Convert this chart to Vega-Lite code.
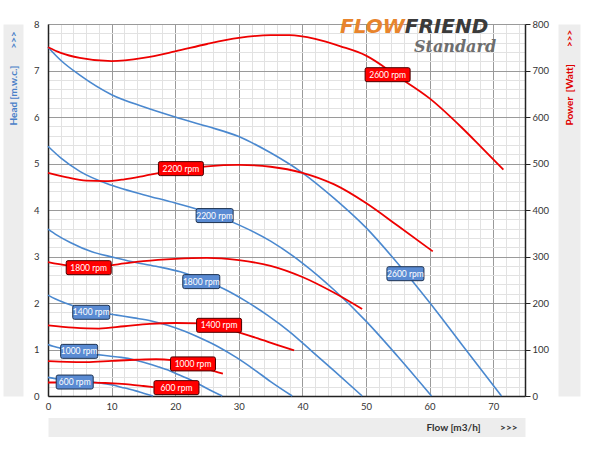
{
  "$schema": "https://vega.github.io/schema/vega-lite/v6.json",
  "width": 477,
  "height": 372,
  "autosize": {"type": "none"},
  "padding": {"left": 48, "top": 24, "right": 75, "bottom": 56},
  "background": "white",
  "config": {"view": {"stroke": null}, "font": "Lato", "axis": {"labelFont": "Lato", "titleFont": "Lato"}},
  "datasets": {
    "head": [
      {"s":"2600","f":0,"h":7.5},{"s":"2600","f":2,"h":7.22},{"s":"2600","f":5,"h":6.9},{"s":"2600","f":10,"h":6.48},{"s":"2600","f":15,"h":6.22},{"s":"2600","f":20,"h":6.0},{"s":"2600","f":25,"h":5.8},{"s":"2600","f":30,"h":5.58},{"s":"2600","f":35,"h":5.23},{"s":"2600","f":40,"h":4.8},{"s":"2600","f":45,"h":4.25},{"s":"2600","f":50,"h":3.62},{"s":"2600","f":55,"h":2.85},{"s":"2600","f":60,"h":2.01},{"s":"2600","f":65,"h":1.12},{"s":"2600","f":71.3,"h":0},
      {"s":"2200","f":0,"h":5.37},{"s":"2200","f":2,"h":5.12},{"s":"2200","f":5,"h":4.83},{"s":"2200","f":10,"h":4.53},{"s":"2200","f":15,"h":4.33},{"s":"2200","f":20,"h":4.15},{"s":"2200","f":25,"h":3.95},{"s":"2200","f":30,"h":3.68},{"s":"2200","f":35,"h":3.33},{"s":"2200","f":40,"h":2.86},{"s":"2200","f":45,"h":2.28},{"s":"2200","f":50,"h":1.61},{"s":"2200","f":55,"h":0.85},{"s":"2200","f":60.3,"h":0},
      {"s":"1800","f":0,"h":3.59},{"s":"1800","f":1.4,"h":3.46},{"s":"1800","f":3.5,"h":3.3},{"s":"1800","f":6.9,"h":3.1},{"s":"1800","f":10.4,"h":2.98},{"s":"1800","f":13.8,"h":2.87},{"s":"1800","f":17.3,"h":2.78},{"s":"1800","f":20.8,"h":2.67},{"s":"1800","f":24.2,"h":2.51},{"s":"1800","f":27.7,"h":2.3},{"s":"1800","f":31.1,"h":2.04},{"s":"1800","f":34.6,"h":1.73},{"s":"1800","f":38.1,"h":1.37},{"s":"1800","f":41.5,"h":0.96},{"s":"1800","f":45,"h":0.54},{"s":"1800","f":49.4,"h":0},
      {"s":"1400","f":0,"h":2.17},{"s":"1400","f":1.1,"h":2.09},{"s":"1400","f":2.7,"h":2.0},{"s":"1400","f":5.4,"h":1.88},{"s":"1400","f":8.1,"h":1.8},{"s":"1400","f":10.8,"h":1.74},{"s":"1400","f":13.5,"h":1.68},{"s":"1400","f":16.1,"h":1.62},{"s":"1400","f":18.8,"h":1.52},{"s":"1400","f":21.5,"h":1.39},{"s":"1400","f":24.2,"h":1.23},{"s":"1400","f":26.9,"h":1.05},{"s":"1400","f":29.6,"h":0.83},{"s":"1400","f":32.3,"h":0.58},{"s":"1400","f":35,"h":0.31},{"s":"1400","f":38.4,"h":0},
      {"s":"1000","f":0,"h":1.11},{"s":"1000","f":0.8,"h":1.07},{"s":"1000","f":1.9,"h":1.03},{"s":"1000","f":3.8,"h":0.96},{"s":"1000","f":5.8,"h":0.92},{"s":"1000","f":7.7,"h":0.89},{"s":"1000","f":9.6,"h":0.86},{"s":"1000","f":11.5,"h":0.83},{"s":"1000","f":13.5,"h":0.78},{"s":"1000","f":15.4,"h":0.71},{"s":"1000","f":17.3,"h":0.63},{"s":"1000","f":19.2,"h":0.54},{"s":"1000","f":21.2,"h":0.42},{"s":"1000","f":23.1,"h":0.3},{"s":"1000","f":25,"h":0.16},{"s":"1000","f":27.4,"h":0},
      {"s":"600","f":0,"h":0.4},{"s":"600","f":1.2,"h":0.37},{"s":"600","f":2.3,"h":0.35},{"s":"600","f":3.5,"h":0.33},{"s":"600","f":4.6,"h":0.32},{"s":"600","f":5.8,"h":0.31},{"s":"600","f":6.9,"h":0.3},{"s":"600","f":8.1,"h":0.28},{"s":"600","f":9.2,"h":0.26},{"s":"600","f":10.4,"h":0.23},{"s":"600","f":11.5,"h":0.19},{"s":"600","f":12.7,"h":0.15},{"s":"600","f":13.8,"h":0.11},{"s":"600","f":15,"h":0.06},{"s":"600","f":16.5,"h":0}
    ],
    "power": [
      {"s":"2600","f":0,"p":750},{"s":"2600","f":2,"p":738},{"s":"2600","f":5,"p":727},{"s":"2600","f":10,"p":720},{"s":"2600","f":15,"p":727},{"s":"2600","f":20,"p":741},{"s":"2600","f":25,"p":757},{"s":"2600","f":30,"p":770},{"s":"2600","f":35,"p":776},{"s":"2600","f":38,"p":776},{"s":"2600","f":42,"p":768},{"s":"2600","f":46,"p":752},{"s":"2600","f":50,"p":732},{"s":"2600","f":55,"p":687},{"s":"2600","f":60,"p":640},{"s":"2600","f":65,"p":578},{"s":"2600","f":68,"p":537},{"s":"2600","f":71.6,"p":487},
      {"s":"2200","f":0,"p":480},{"s":"2200","f":3,"p":470},{"s":"2200","f":6,"p":463},{"s":"2200","f":9,"p":462},{"s":"2200","f":12,"p":466},{"s":"2200","f":15,"p":473},{"s":"2200","f":18,"p":481},{"s":"2200","f":21,"p":488},{"s":"2200","f":25,"p":494},{"s":"2200","f":30,"p":497},{"s":"2200","f":35,"p":493},{"s":"2200","f":40,"p":480},{"s":"2200","f":45,"p":455},{"s":"2200","f":50,"p":415},{"s":"2200","f":55,"p":366},{"s":"2200","f":60.5,"p":311},
      {"s":"1800","f":0,"p":288},{"s":"1800","f":3,"p":281},{"s":"1800","f":6,"p":278},{"s":"1800","f":9,"p":280},{"s":"1800","f":12,"p":285},{"s":"1800","f":15,"p":290},{"s":"1800","f":20,"p":295},{"s":"1800","f":25,"p":297},{"s":"1800","f":30,"p":292},{"s":"1800","f":35,"p":280},{"s":"1800","f":40,"p":256},{"s":"1800","f":45,"p":222},{"s":"1800","f":49.4,"p":187},
      {"s":"1400","f":0,"p":152},{"s":"1400","f":4,"p":147},{"s":"1400","f":8,"p":145},{"s":"1400","f":12,"p":150},{"s":"1400","f":16,"p":155},{"s":"1400","f":20,"p":157},{"s":"1400","f":24,"p":156},{"s":"1400","f":27,"p":151},{"s":"1400","f":30,"p":137},{"s":"1400","f":33,"p":124},{"s":"1400","f":36,"p":110},{"s":"1400","f":38.7,"p":98},
      {"s":"1000","f":0,"p":75},{"s":"1000","f":3,"p":73.5},{"s":"1000","f":6,"p":73},{"s":"1000","f":10,"p":75.5},{"s":"1000","f":14,"p":78},{"s":"1000","f":17,"p":79},{"s":"1000","f":19.5,"p":77},{"s":"1000","f":22,"p":70},{"s":"1000","f":24,"p":62},{"s":"1000","f":26,"p":54},{"s":"1000","f":27.5,"p":48},
      {"s":"600","f":0,"p":29},{"s":"600","f":3,"p":29.5},{"s":"600","f":6,"p":29.5},{"s":"600","f":9,"p":28},{"s":"600","f":11,"p":26.5},{"s":"600","f":13,"p":24.5},{"s":"600","f":15,"p":21.5},{"s":"600","f":16.6,"p":19}
    ],
    "headLabels": [
      {"label":"2600 rpm","f":56.2,"h":2.63},{"label":"2200 rpm","f":26.2,"h":3.88},{"label":"1800 rpm","f":24.1,"h":2.46},
      {"label":"1400 rpm","f":6.8,"h":1.8},{"label":"1000 rpm","f":4.9,"h":0.96},{"label":"600 rpm","f":4.2,"h":0.3}
    ],
    "powerLabels": [
      {"label":"2600 rpm","f":53.4,"p":691},{"label":"2200 rpm","f":20.9,"p":489},{"label":"1800 rpm","f":6.4,"p":276},
      {"label":"1400 rpm","f":26.9,"p":152},{"label":"1000 rpm","f":22.8,"p":69},{"label":"600 rpm","f":20.2,"p":18}
    ]
  },
  "resolve": {"scale": {"y": "independent"}, "axis": {"x": "independent", "y": "independent"}},
  "layer": [
    {
      "data": {"name": "head"},
      "mark": {"type": "line", "interpolate": "monotone", "color": "#4a88cf", "strokeWidth": 1.6},
      "encoding": {
        "x": {"field": "f", "type": "quantitative", "scale": {"domain": [0, 75], "nice": false},
          "axis": {"values": [0,10,20,30,40,50,60,70], "grid": true, "gridColor": "#9a9a9a", "gridWidth": 1, "ticks": false, "domain": true, "domainColor": "#222", "domainWidth": 1.5, "labelFontSize": 9.5, "labelColor": "#333", "labelPadding": 5, "labelFlush": false, "title": null, "zindex": 0}},
        "y": {"field": "h", "type": "quantitative", "scale": {"domain": [0, 8], "nice": false},
          "axis": {"orient": "left", "values": [0,1,2,3,4,5,6,7,8], "grid": true, "gridColor": "#9a9a9a", "gridWidth": 1, "ticks": false, "domain": true, "domainColor": "#222", "domainWidth": 1.5, "labelFontSize": 9.5, "labelColor": "#333", "labelPadding": 9, "title": null, "zindex": 0}},
        "detail": {"field": "s", "type": "nominal"}
      }
    },
    {
      "data": {"name": "power"},
      "mark": {"type": "line", "interpolate": "monotone", "color": "#ee0000", "strokeWidth": 1.8},
      "encoding": {
        "x": {"field": "f", "type": "quantitative", "scale": {"domain": [0, 75], "nice": false}, "axis": null},
        "y": {"field": "p", "type": "quantitative", "scale": {"domain": [0, 800], "nice": false},
          "axis": {"orient": "right", "values": [0,100,200,300,400,500,600,700,800], "grid": false, "ticks": true, "tickSize": 5, "tickColor": "#222", "domain": true, "domainColor": "#222", "domainWidth": 1.5, "labelFontSize": 9.5, "labelColor": "#333", "labelPadding": 2, "title": null}},
        "detail": {"field": "s", "type": "nominal"}
      }
    },
    {
      "data": {"name": "headLabels"},
      "mark": {"type": "point", "filled": true, "shape": "M-0.9,-0.378 L0.9,-0.378 Q1,-0.378 1,-0.28 L1,0.28 Q1,0.378 0.9,0.378 L-0.9,0.378 Q-1,0.378 -1,0.28 L-1,-0.28 Q-1,-0.378 -0.9,-0.378 Z", "size": 1369, "fill": "#5a8bd3", "stroke": "#1d3250", "strokeWidth": 1, "opacity": 1},
      "encoding": {
        "x": {"field": "f", "type": "quantitative", "scale": {"domain": [0, 75], "nice": false},
          "axis": {"values": [2,4,6,8,12,14,16,18,22,24,26,28,32,34,36,38,42,44,46,48,52,54,56,58,62,64,66,68,72,74], "grid": true, "gridColor": "#e2e2e2", "gridWidth": 1, "labels": false, "ticks": false, "domain": false, "title": null, "zindex": 0}},
        "y": {"field": "h", "type": "quantitative", "scale": {"domain": [0, 8], "nice": false},
          "axis": {"orient": "left", "values": [0.2,0.4,0.6,0.8,1.2,1.4,1.6,1.8,2.2,2.4,2.6,2.8,3.2,3.4,3.6,3.8,4.2,4.4,4.6,4.8,5.2,5.4,5.6,5.8,6.2,6.4,6.6,6.8,7.2,7.4,7.6,7.8], "grid": true, "gridColor": "#e2e2e2", "gridWidth": 1, "labels": false, "ticks": false, "domain": false, "title": null, "zindex": 0}}
      }
    },
    {
      "data": {"name": "headLabels"},
      "mark": {"type": "text", "color": "white", "fontSize": 8.5, "font": "Lato", "align": "center", "baseline": "middle"},
      "encoding": {
        "x": {"field": "f", "type": "quantitative", "scale": {"domain": [0, 75], "nice": false},
          "axis": {"orient": "bottom", "offset": 31, "domain": true, "domainWidth": 19, "domainColor": "#ededed", "labels": false, "ticks": false, "grid": false, "title": "Flow [m3/h]\u00a0\u00a0\u00a0\u00a0\u00a0\u00a0\u00a0\u00a0>>>", "titleX": 469, "titleY": 0, "titleAlign": "right", "titleBaseline": "middle", "titleAngle": 0, "titleColor": "#333", "titleFontSize": 10, "titleFontWeight": "bold", "minExtent": 0, "maxExtent": 0}},
        "y": {"field": "h", "type": "quantitative", "scale": {"domain": [0, 8], "nice": false},
          "axis": {"orient": "left", "offset": 35, "domain": true, "domainWidth": 20, "domainColor": "#ededed", "labels": false, "ticks": false, "grid": false, "title": "Head [m.w.c.]\u00a0\u00a0\u00a0\u00a0\u00a0\u00a0\u00a0>>>", "titleX": 0, "titleY": 101, "titleAngle": 270, "titleAlign": "left", "titleBaseline": "middle", "titleColor": "#4a80c8", "titleFontSize": 10, "titleFontWeight": "bold", "minExtent": 0, "maxExtent": 0}},
        "text": {"field": "label", "type": "nominal"}
      }
    },
    {
      "data": {"name": "powerLabels"},
      "mark": {"type": "point", "filled": true, "shape": "M-0.92,-0.311 L0.92,-0.311 Q1,-0.311 1,-0.23 L1,0.23 Q1,0.311 0.92,0.311 L-0.92,0.311 Q-1,0.311 -1,0.23 L-1,-0.23 Q-1,-0.311 -0.92,-0.311 Z", "size": 2025, "fill": "#ff0000", "stroke": "#4a0000", "strokeWidth": 1, "opacity": 1},
      "encoding": {
        "x": {"field": "f", "type": "quantitative", "scale": {"domain": [0, 75], "nice": false}, "axis": null},
        "y": {"field": "p", "type": "quantitative", "scale": {"domain": [0, 800], "nice": false},
          "axis": {"orient": "right", "offset": 44, "domain": true, "domainWidth": 22, "domainColor": "#ededed", "labels": false, "ticks": false, "grid": false, "title": "Power\u00a0\u00a0[Watt]\u00a0\u00a0\u00a0\u00a0\u00a0\u00a0\u00a0>>>", "titleX": 0, "titleY": 101, "titleAngle": 270, "titleAlign": "left", "titleBaseline": "middle", "titleColor": "#e00000", "titleFontSize": 10, "titleFontWeight": "bold", "minExtent": 0, "maxExtent": 0}}
      }
    },
    {
      "data": {"name": "powerLabels"},
      "mark": {"type": "text", "color": "white", "fontSize": 8.5, "font": "Lato", "align": "center", "baseline": "middle"},
      "encoding": {
        "x": {"field": "f", "type": "quantitative", "scale": {"domain": [0, 75], "nice": false}, "axis": null},
        "y": {"field": "p", "type": "quantitative", "scale": {"domain": [0, 800], "nice": false}, "axis": null},
        "text": {"field": "label", "type": "nominal"}
      }
    },
    {
      "data": {"values": [{"t": "FLOW", "f": 56.1, "p": 781}]},
      "mark": {"type": "text", "color": "#e8842c", "font": "DejaVu Sans", "fontSize": 20, "fontWeight": "bold", "fontStyle": "italic", "align": "right", "baseline": "alphabetic"},
      "encoding": {
        "x": {"field": "f", "type": "quantitative", "scale": {"domain": [0, 75], "nice": false}, "axis": null},
        "y": {"field": "p", "type": "quantitative", "scale": {"domain": [0, 800], "nice": false}, "axis": null},
        "text": {"field": "t", "type": "nominal"}
      }
    },
    {
      "data": {"values": [{"t": "FRIEND", "f": 56.1, "p": 781}]},
      "mark": {"type": "text", "color": "#3a3a3a", "font": "DejaVu Sans", "fontSize": 20, "fontWeight": "bold", "fontStyle": "italic", "align": "left", "baseline": "alphabetic"},
      "encoding": {
        "x": {"field": "f", "type": "quantitative", "scale": {"domain": [0, 75], "nice": false}, "axis": null},
        "y": {"field": "p", "type": "quantitative", "scale": {"domain": [0, 800], "nice": false}, "axis": null},
        "text": {"field": "t", "type": "nominal"}
      }
    },
    {
      "data": {"values": [{"t": "Standard", "f": 64, "p": 739}]},
      "mark": {"type": "text", "color": "#6e6e6e", "font": "DejaVu Serif", "fontSize": 16, "fontWeight": "bold", "fontStyle": "italic", "align": "center", "baseline": "alphabetic"},
      "encoding": {
        "x": {"field": "f", "type": "quantitative", "scale": {"domain": [0, 75], "nice": false}, "axis": null},
        "y": {"field": "p", "type": "quantitative", "scale": {"domain": [0, 800], "nice": false}, "axis": null},
        "text": {"field": "t", "type": "nominal"}
      }
    }
  ]
}
